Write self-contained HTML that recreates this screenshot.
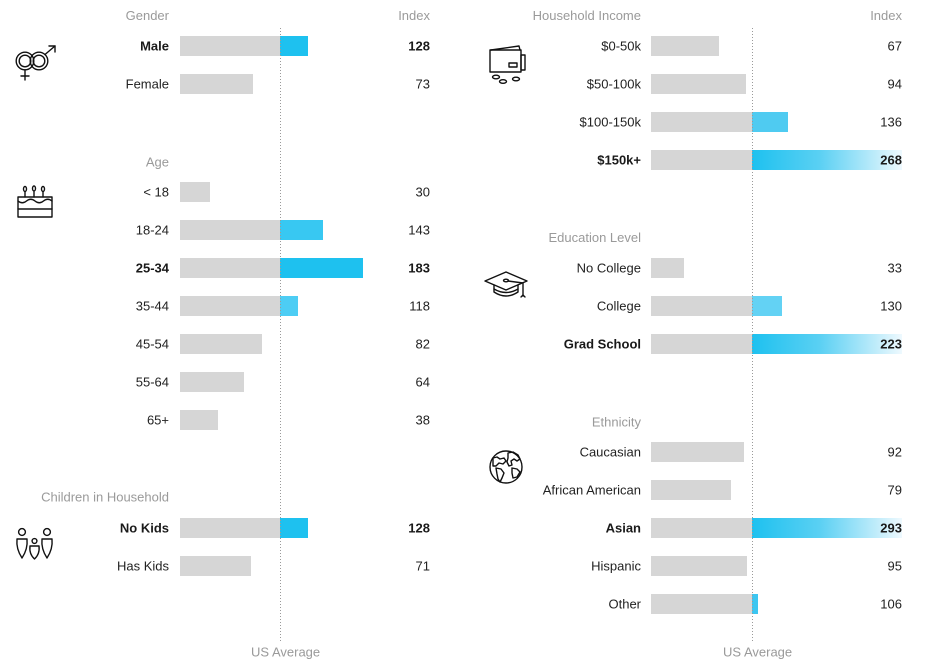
<!DOCTYPE html>
<html>
<head>
<meta charset="utf-8">
<style>
  html,body{margin:0;padding:0;background:#fff;}
  svg{display:block;}
  text{font-family:"Liberation Sans", Arial, sans-serif;font-size:13px;}
  .h{fill:#9a9a9a;}
  .l{fill:#222;}
  .b{font-weight:bold;fill:#1a1a1a;}
  .ic{fill:none;stroke:#111;stroke-width:1.4;stroke-linecap:round;stroke-linejoin:round;}
</style>
</head>
<body>
<svg width="931" height="667" viewBox="0 0 931 667" xmlns="http://www.w3.org/2000/svg">
<defs>
  <linearGradient id="g" x1="0" y1="0" x2="1" y2="0">
    <stop offset="0" stop-color="#1ec1ef"/>
    <stop offset="0.45" stop-color="#5ad0f3"/>
    <stop offset="1" stop-color="#eef9fe"/>
  </linearGradient>
</defs>

<!-- ================= LEFT PANEL ================= -->
<text class="h" x="169" y="20" text-anchor="end">Gender</text>
<text class="h" x="430" y="20" text-anchor="end">Index</text>

<!-- Male -->
<rect x="180" y="36" width="100" height="20" fill="#d6d6d6"/>
<rect x="280" y="36" width="28" height="20" fill="#1ec1ef"/>
<text class="b" x="169" y="50.5" text-anchor="end">Male</text>
<text class="b" x="430" y="50.5" text-anchor="end">128</text>
<!-- Female -->
<rect x="180" y="74" width="73" height="20" fill="#d6d6d6"/>
<text class="l" x="169" y="88.5" text-anchor="end">Female</text>
<text class="l" x="430" y="88.5" text-anchor="end">73</text>

<text class="h" x="169" y="166.5" text-anchor="end">Age</text>
<!-- <18 -->
<rect x="180" y="182" width="30" height="20" fill="#d6d6d6"/>
<text class="l" x="169" y="196.5" text-anchor="end">&lt; 18</text>
<text class="l" x="430" y="196.5" text-anchor="end">30</text>
<!-- 18-24 -->
<rect x="180" y="220" width="100" height="20" fill="#d6d6d6"/>
<rect x="280" y="220" width="43" height="20" fill="#38c8f2"/>
<text class="l" x="169" y="234.5" text-anchor="end">18-24</text>
<text class="l" x="430" y="234.5" text-anchor="end">143</text>
<!-- 25-34 -->
<rect x="180" y="258" width="100" height="20" fill="#d6d6d6"/>
<rect x="280" y="258" width="83" height="20" fill="#1ec1ef"/>
<text class="b" x="169" y="272.5" text-anchor="end">25-34</text>
<text class="b" x="430" y="272.5" text-anchor="end">183</text>
<!-- 35-44 -->
<rect x="180" y="296" width="100" height="20" fill="#d6d6d6"/>
<rect x="280" y="296" width="18" height="20" fill="#4dcdf4"/>
<text class="l" x="169" y="310.5" text-anchor="end">35-44</text>
<text class="l" x="430" y="310.5" text-anchor="end">118</text>
<!-- 45-54 -->
<rect x="180" y="334" width="82" height="20" fill="#d6d6d6"/>
<text class="l" x="169" y="348.5" text-anchor="end">45-54</text>
<text class="l" x="430" y="348.5" text-anchor="end">82</text>
<!-- 55-64 -->
<rect x="180" y="372" width="64" height="20" fill="#d6d6d6"/>
<text class="l" x="169" y="386.5" text-anchor="end">55-64</text>
<text class="l" x="430" y="386.5" text-anchor="end">64</text>
<!-- 65+ -->
<rect x="180" y="410" width="38" height="20" fill="#d6d6d6"/>
<text class="l" x="169" y="424.5" text-anchor="end">65+</text>
<text class="l" x="430" y="424.5" text-anchor="end">38</text>

<text class="h" x="169" y="501.5" text-anchor="end">Children in Household</text>
<!-- No Kids -->
<rect x="180" y="518" width="100" height="20" fill="#d6d6d6"/>
<rect x="280" y="518" width="28" height="20" fill="#1ec1ef"/>
<text class="b" x="169" y="532.5" text-anchor="end">No Kids</text>
<text class="b" x="430" y="532.5" text-anchor="end">128</text>
<!-- Has Kids -->
<rect x="180" y="556" width="71" height="20" fill="#d6d6d6"/>
<text class="l" x="169" y="570.5" text-anchor="end">Has Kids</text>
<text class="l" x="430" y="570.5" text-anchor="end">71</text>

<line x1="280.5" y1="28" x2="280.5" y2="643" stroke="#9a9a9a" stroke-width="1" stroke-dasharray="1,2"/>
<text class="h" x="251" y="656.5">US Average</text>

<!-- ================= RIGHT PANEL ================= -->
<text class="h" x="641" y="20" text-anchor="end">Household Income</text>
<text class="h" x="902" y="20" text-anchor="end">Index</text>

<rect x="651" y="36" width="68" height="20" fill="#d6d6d6"/>
<text class="l" x="641" y="50.5" text-anchor="end">$0-50k</text>
<text class="l" x="902" y="50.5" text-anchor="end">67</text>

<rect x="651" y="74" width="95" height="20" fill="#d6d6d6"/>
<text class="l" x="641" y="88.5" text-anchor="end">$50-100k</text>
<text class="l" x="902" y="88.5" text-anchor="end">94</text>

<rect x="651" y="112" width="101" height="20" fill="#d6d6d6"/>
<rect x="752" y="112" width="36" height="20" fill="#4fcbf1"/>
<text class="l" x="641" y="126.5" text-anchor="end">$100-150k</text>
<text class="l" x="902" y="126.5" text-anchor="end">136</text>

<rect x="651" y="150" width="101" height="20" fill="#d6d6d6"/>
<rect x="752" y="150" width="150" height="20" fill="url(#g)"/>
<text class="b" x="641" y="164.5" text-anchor="end">$150k+</text>
<text class="b" x="902" y="164.5" text-anchor="end">268</text>

<text class="h" x="641" y="242" text-anchor="end">Education Level</text>

<rect x="651" y="258" width="33" height="20" fill="#d6d6d6"/>
<text class="l" x="641" y="272.5" text-anchor="end">No College</text>
<text class="l" x="902" y="272.5" text-anchor="end">33</text>

<rect x="651" y="296" width="101" height="20" fill="#d6d6d6"/>
<rect x="752" y="296" width="30" height="20" fill="#63d2f4"/>
<text class="l" x="641" y="310.5" text-anchor="end">College</text>
<text class="l" x="902" y="310.5" text-anchor="end">130</text>

<rect x="651" y="334" width="101" height="20" fill="#d6d6d6"/>
<rect x="752" y="334" width="150" height="20" fill="url(#g)"/>
<text class="b" x="641" y="348.5" text-anchor="end">Grad School</text>
<text class="b" x="902" y="348.5" text-anchor="end">223</text>

<text class="h" x="641" y="426.5" text-anchor="end">Ethnicity</text>

<rect x="651" y="442" width="93" height="20" fill="#d6d6d6"/>
<text class="l" x="641" y="456.5" text-anchor="end">Caucasian</text>
<text class="l" x="902" y="456.5" text-anchor="end">92</text>

<rect x="651" y="480" width="80" height="20" fill="#d6d6d6"/>
<text class="l" x="641" y="494.5" text-anchor="end">African American</text>
<text class="l" x="902" y="494.5" text-anchor="end">79</text>

<rect x="651" y="518" width="101" height="20" fill="#d6d6d6"/>
<rect x="752" y="518" width="150" height="20" fill="url(#g)"/>
<text class="b" x="641" y="532.5" text-anchor="end">Asian</text>
<text class="b" x="902" y="532.5" text-anchor="end">293</text>

<rect x="651" y="556" width="96" height="20" fill="#d6d6d6"/>
<text class="l" x="641" y="570.5" text-anchor="end">Hispanic</text>
<text class="l" x="902" y="570.5" text-anchor="end">95</text>

<rect x="651" y="594" width="101" height="20" fill="#d6d6d6"/>
<rect x="752" y="594" width="6" height="20" fill="#3cc6f1"/>
<text class="l" x="641" y="608.5" text-anchor="end">Other</text>
<text class="l" x="902" y="608.5" text-anchor="end">106</text>

<line x1="752.5" y1="28" x2="752.5" y2="643" stroke="#9a9a9a" stroke-width="1" stroke-dasharray="1,2"/>
<text class="h" x="723" y="656.5">US Average</text>

<!-- ================= ICONS ================= -->
<!-- gender -->
<g class="ic">
  <circle cx="25" cy="61" r="8.8"/>
  <circle cx="25" cy="61" r="5.8"/>
  <circle cx="39" cy="61" r="8.8"/>
  <circle cx="39" cy="61" r="5.8"/>
  <line x1="25" y1="70" x2="25" y2="80"/>
  <line x1="21" y1="76" x2="29" y2="76"/>
  <line x1="45" y1="54.5" x2="55" y2="46"/>
  <polyline points="49,46 55,46 55,52"/>
</g>
<!-- cake -->
<g class="ic">
  <rect x="18" y="197" width="34" height="20"/>
  <line x1="18" y1="209" x2="52" y2="209"/>
  <path d="M18 201 q4.25 3.5 8.5 0 t8.5 0 t8.5 0 t8.5 0"/>
  <line x1="25" y1="192" x2="25" y2="197"/>
  <line x1="34" y1="192" x2="34" y2="197"/>
  <line x1="43" y1="192" x2="43" y2="197"/>
  <ellipse cx="25" cy="189" rx="1.5" ry="2.5"/>
  <ellipse cx="34" cy="188.5" rx="1.5" ry="2.5"/>
  <ellipse cx="43" cy="189" rx="1.5" ry="2.5"/>
</g>
<!-- family -->
<g class="ic">
  <circle cx="22" cy="532" r="3.4"/>
  <circle cx="47" cy="532" r="3.4"/>
  <circle cx="34.5" cy="541" r="2.4"/>
  <path d="M17 539 h10 q1 10 -5 19 q-6 -9 -5 -19 z"/>
  <path d="M42 539 h10 q1 10 -5 19 q-6 -9 -5 -19 z"/>
  <path d="M30 546 h9 q1 8 -4.5 13 q-5.5 -5 -4.5 -13 z"/>
</g>
<!-- wallet -->
<g class="ic">
  <rect x="490" y="50" width="31" height="22"/>
  <polyline points="491,50 519,46 520,50"/>
  <rect x="521" y="55" width="4" height="15"/>
  <rect x="509" y="63" width="8" height="4"/>
  <ellipse cx="496" cy="77" rx="3.5" ry="1.8"/>
  <ellipse cx="503" cy="81.5" rx="3.5" ry="1.8"/>
  <ellipse cx="516" cy="79" rx="3.5" ry="1.8"/>
</g>
<!-- grad cap -->
<g class="ic">
  <path d="M485 281 L506 272 L527 281 L506 290 Z"/>
  <path d="M494 285 v7 q12 8 24 0 v-7"/>
  <path d="M494 289 q12 7 24 0"/>
  <ellipse cx="506" cy="280.5" rx="2.5" ry="1.3"/>
  <polyline points="508,281 523,283 523,296"/>
  <path d="M521 297 l2 -2 l2 2"/>
</g>
<!-- globe -->
<g class="ic">
  <circle cx="506" cy="467" r="16"/>
  <path d="M493 458 l4 -1 l3 2 l4 -1 l2 3 l-3 3 l-4 -1 l-3 3 l-3 0 z"/>
  <path d="M496 468 l5 1 l3 4 l-2 5 l-2 4 l-2 -3 l-1 -5 z"/>
  <path d="M508 453 l5 -1 l5 3 l2 4 l-3 2 l-3 -2 l-3 2 l1 4 l-3 1 l-2 -4 l1 -4 z"/>
  <path d="M512 468 l5 1 l3 3 l-3 5 l-4 1 l-1 -5 z"/>
</g>
</svg>
</body>
</html>
